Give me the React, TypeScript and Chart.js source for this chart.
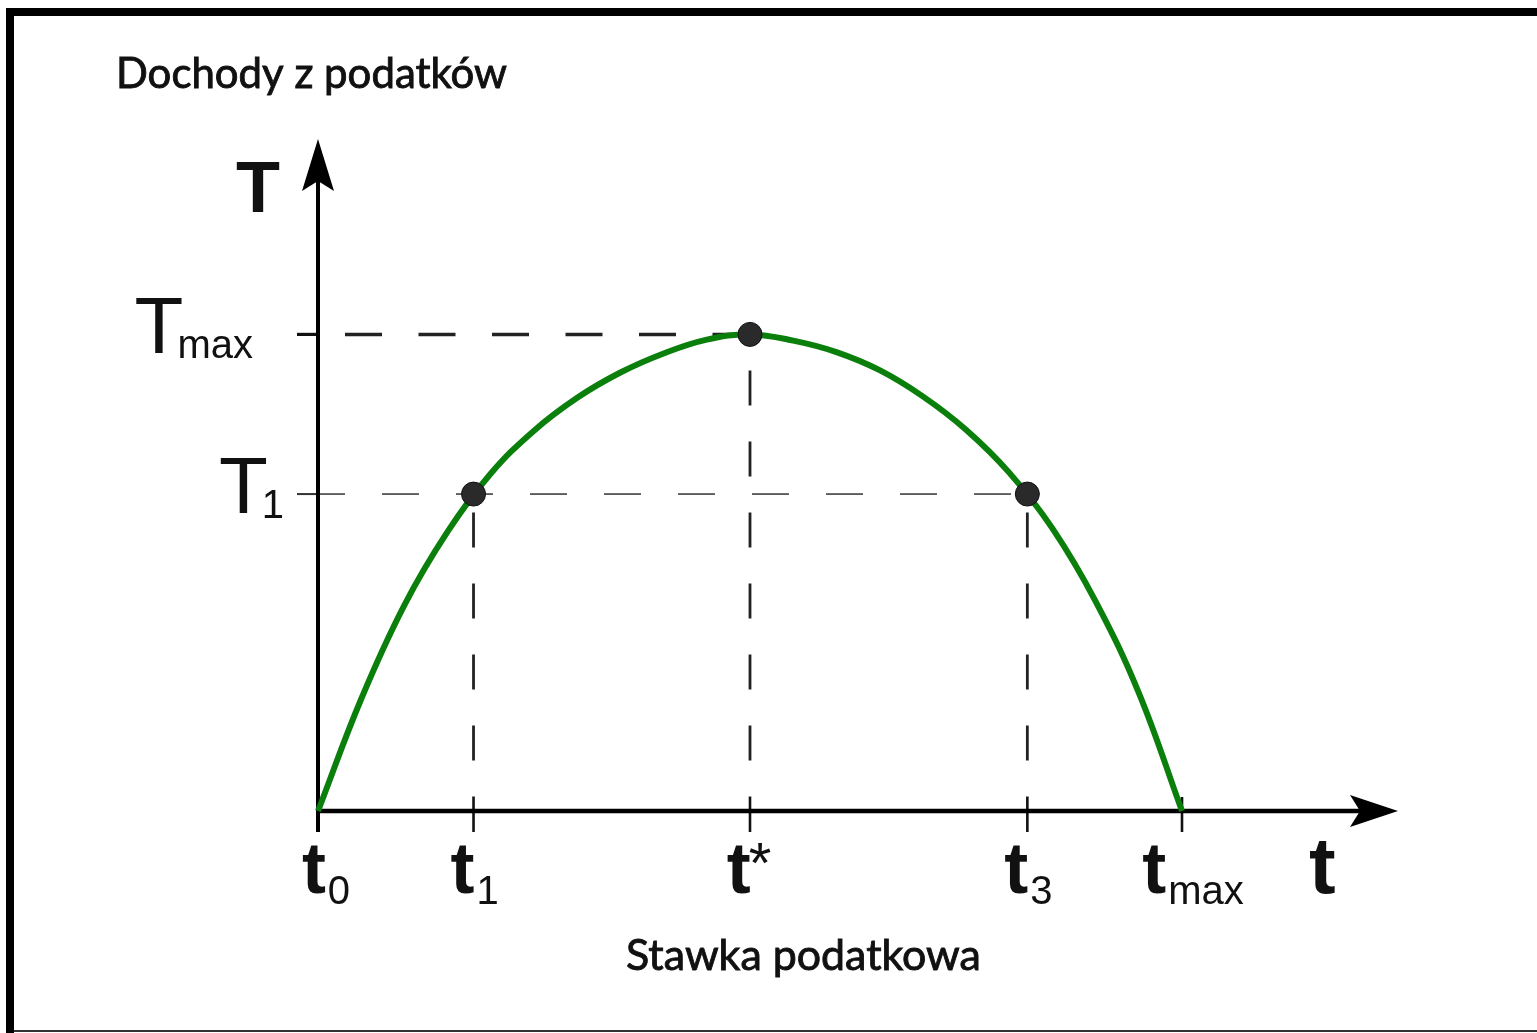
import React, { useEffect, useRef } from "react";
import { Chart, registerables } from "chart.js";

Chart.register(...registerables);

// Laffer curve: tax rate (x, t0..tmax = 0..100) vs tax revenue (y, Tmax = 100)
const curveRate = [0, 5, 10, 15, 20, 25, 30, 35, 40, 45, 50, 55, 60, 65, 70, 75, 80, 85, 90, 95, 100];
const curveRevenue = [0, 23.5, 43.2, 58.6, 70.8, 79.8, 86.7, 92.0, 96.0, 98.9, 100, 98.7, 96.3, 92.5, 87.0, 80.0, 71.0, 59.3, 44.0, 24.8, 0];

const markerRates = [18.0, 50, 82.1];
const markerRevenues = [66.5, 100, 66.5];

const xTickValues = [0, 18.0, 50, 82.1, 100];
const xTickMain = ["t", "t", "t", "t", "t"];
const xTickSub = ["0", "1", "*", "3", "max"];

const yTickValues = [100, 66.5];
const yTickMain = ["T", "T"];
const yTickSub = ["max", "1"];

const titleY = "Dochody z podatków";
const titleX = "Stawka podatkowa";
const axisNameY = "T";
const axisNameX = "t";

const X_MAX = 125;
const Y_MAX = 141;

function dashed(
  ctx: CanvasRenderingContext2D,
  x0: number, y0: number, x1: number, y1: number,
  dash: number[], phaseStart: number, width: number, color: string
) {
  const period = dash[0] + dash[1];
  const start = Math.abs(x1 - x0) > Math.abs(y1 - y0) ? x0 : y0;
  ctx.save();
  ctx.strokeStyle = color;
  ctx.lineWidth = width;
  ctx.setLineDash(dash);
  ctx.lineDashOffset = (((start - phaseStart) % period) + period) % period;
  ctx.beginPath();
  ctx.moveTo(x0, y0);
  ctx.lineTo(x1, y1);
  ctx.stroke();
  ctx.restore();
}

function solid(ctx: CanvasRenderingContext2D, x0: number, y0: number, x1: number, y1: number, width: number, color: string) {
  ctx.save();
  ctx.strokeStyle = color;
  ctx.lineWidth = width;
  ctx.setLineDash([]);
  ctx.beginPath();
  ctx.moveTo(x0, y0);
  ctx.lineTo(x1, y1);
  ctx.stroke();
  ctx.restore();
}

const decorPlugin = {
  id: "lafferDecor",
  beforeDraw(chart: any) {
    const ctx = chart.ctx as CanvasRenderingContext2D;
    const W = chart.width, H = chart.height;
    ctx.save();
    ctx.fillStyle = "#ffffff";
    ctx.fillRect(0, 0, W, H);
    ctx.fillStyle = "#000";
    ctx.fillRect(6, 8, 8, H - 8);
    ctx.fillRect(6, 8, W - 6, 8);
    ctx.fillStyle = "#333";
    ctx.fillRect(14, 1030, W - 14, 2);
    ctx.restore();
  },
  beforeDatasetsDraw(chart: any) {
    const ctx = chart.ctx as CanvasRenderingContext2D;
    const xs = chart.scales.x, ys = chart.scales.y;
    const x0 = xs.getPixelForValue(0);
    const y0 = ys.getPixelForValue(0);
    const xEnd = xs.getPixelForValue(X_MAX);
    const yTop = ys.getPixelForValue(Y_MAX);

    const yMaxPx = ys.getPixelForValue(yTickValues[0]);
    const xPeak = xs.getPixelForValue(markerRates[1]);
    dashed(ctx, x0, yMaxPx, xPeak, yMaxPx, [37, 36.5], x0 + 27, 3.5, "#222");
    const yT1 = ys.getPixelForValue(yTickValues[1]);
    const xT3 = xs.getPixelForValue(markerRates[2]);
    dashed(ctx, x0, yT1, xT3, yT1, [37, 37], x0 - 10, 1.8, "#555");

    for (let i = 0; i < markerRates.length; i++) {
      const px = xs.getPixelForValue(markerRates[i]);
      const py = ys.getPixelForValue(markerRevenues[i]);
      dashed(ctx, px, py, px, y0 - 14, [35, 36], yMaxPx + 36, 2.8, "#222");
    }

    for (let i = 0; i < xTickValues.length; i++) {
      const px = xs.getPixelForValue(xTickValues[i]);
      solid(ctx, px, i === 0 ? y0 : y0 - 14, px, y0 + 21, 2.6, "#111");
    }
    solid(ctx, x0 - 21, yMaxPx, x0, yMaxPx, 3.2, "#111");
    solid(ctx, x0 - 21, yT1, x0, yT1, 2, "#333");

    solid(ctx, x0, y0 + 21, x0, yTop + 30, 4, "#000");
    solid(ctx, x0, y0, xEnd - 30, y0, 4.5, "#000");

    ctx.save();
    ctx.fillStyle = "#000";
    ctx.beginPath();
    ctx.moveTo(x0, yTop);
    ctx.lineTo(x0 + 16, yTop + 52);
    ctx.lineTo(x0, yTop + 42);
    ctx.lineTo(x0 - 16, yTop + 52);
    ctx.closePath();
    ctx.fill();
    ctx.beginPath();
    ctx.moveTo(xEnd, y0);
    ctx.lineTo(xEnd - 48, y0 - 16);
    ctx.lineTo(xEnd - 38, y0);
    ctx.lineTo(xEnd - 48, y0 + 16);
    ctx.closePath();
    ctx.fill();
    ctx.restore();
  },
  afterDraw(chart: any) {
    const ctx = chart.ctx as CanvasRenderingContext2D;
    const xs = chart.scales.x, ys = chart.scales.y;
    const y0 = ys.getPixelForValue(0);
    ctx.save();
    ctx.fillStyle = "#111";
    ctx.textBaseline = "alphabetic";
    ctx.textAlign = "left";

    const mainFont = "bold 72px 'Liberation Sans', Arial, sans-serif";
    const subFont = "40px 'Liberation Sans', Arial, sans-serif";
    const starFont = "58px 'Liberation Sans', Arial, sans-serif";
    for (let i = 0; i < xTickValues.length; i++) {
      const px = xs.getPixelForValue(xTickValues[i]);
      ctx.font = mainFont;
      const wm = ctx.measureText(xTickMain[i]).width;
      const isStar = xTickSub[i] === "*";
      ctx.font = isStar ? starFont : subFont;
      const ws = ctx.measureText(xTickSub[i]).width;
      const left = px - (wm + ws) / 2 + (i === 0 ? 7 : 0) + (i === 4 ? 10 : 0);
      ctx.font = mainFont;
      ctx.fillText(xTickMain[i], left, y0 + 82);
      ctx.font = isStar ? starFont : subFont;
      ctx.fillText(xTickSub[i], left + wm + (isStar ? -2 : 2), isStar ? y0 + 72 : y0 + 93);
    }

    const yRights = [253, 284];
    for (let i = 0; i < yTickValues.length; i++) {
      const py = ys.getPixelForValue(yTickValues[i]);
      ctx.font = "80px 'Liberation Sans', Arial, sans-serif";
      const wm = ctx.measureText(yTickMain[i]).width;
      ctx.font = "40px 'Liberation Sans', Arial, sans-serif";
      const ws = ctx.measureText(yTickSub[i]).width;
      const left = yRights[i] - wm - ws + 6;
      ctx.font = "80px 'Liberation Sans', Arial, sans-serif";
      ctx.fillText(yTickMain[i], left, py + 19);
      ctx.font = "40px 'Liberation Sans', Arial, sans-serif";
      ctx.fillText(yTickSub[i], left + wm - 6, py + 24);
    }

    ctx.font = "bold 72px 'Liberation Sans', Arial, sans-serif";
    ctx.fillText(axisNameY, 236, 212);
    ctx.font = "bold 80px 'Liberation Sans', Arial, sans-serif";
    ctx.fillText(axisNameX, 1309, y0 + 82);

    const fitText = (txt: string, left: number, base: number, width: number) => {
      ctx.font = "30px Lato, 'Open Sans', sans-serif";
      const w = ctx.measureText(txt).width;
      const size = (30 * width) / w;
      ctx.font = `${size.toFixed(2)}px Lato, 'Open Sans', sans-serif`;
      ctx.lineWidth = 0.9;
      ctx.strokeStyle = "#111";
      ctx.fillText(txt, left, base);
      ctx.strokeText(txt, left, base);
    };
    fitText(titleY, 116, 88, 391);
    fitText(titleX, 626, 970, 355);
    ctx.restore();
  },
};

export default function App() {
  const ref = useRef<HTMLCanvasElement | null>(null);
  useEffect(() => {
    if (!ref.current) return;
    const curve = curveRate.map((x, i) => ({ x, y: curveRevenue[i] }));
    const markers = markerRates.map((x, i) => ({ x, y: markerRevenues[i] }));
    const chart = new Chart(ref.current, {
      type: "line",
      data: {
        datasets: [
          {
            data: markers,
            showLine: false,
            pointRadius: 12,
            pointBackgroundColor: "#2a2a2a",
            pointBorderColor: "#111",
            pointBorderWidth: 1,
            order: 0,
          } as any,
          {
            data: curve,
            borderColor: "#0b7f0b",
            borderWidth: 6,
            pointRadius: 0,
            tension: 0.4,
            fill: false,
            order: 1,
          } as any,
        ],
      },
      options: {
        responsive: false,
        animation: false,
        devicePixelRatio: 1,
        clip: false as any,
        layout: { padding: { left: 318, right: 139, top: 139, bottom: 222 } },
        scales: {
          x: { type: "linear", min: 0, max: X_MAX, display: false },
          y: { type: "linear", min: 0, max: Y_MAX, display: false },
        },
        plugins: { legend: { display: false }, tooltip: { enabled: false }, title: { display: false } },
        events: [],
      },
      plugins: [decorPlugin],
    });
    return () => chart.destroy();
  }, []);
  return (
    <div style={{ position: "fixed", left: 0, top: 0, width: 1537, height: 1033, background: "#fff" }}>
      <canvas ref={ref} width={1537} height={1033} style={{ display: "block" }} />
    </div>
  );
}
